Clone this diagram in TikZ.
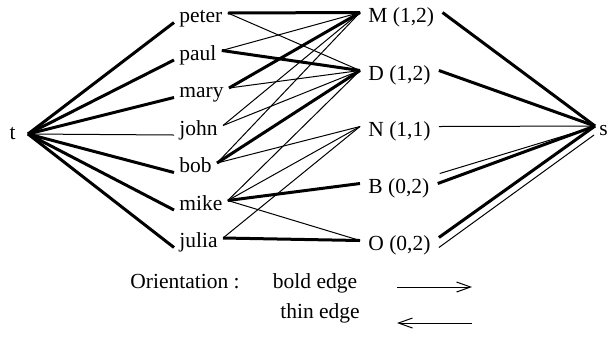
\documentclass[tikz,border=0pt]{standalone}
\usepackage{fontspec}
\setmainfont{Liberation Serif}
\usepackage{tikz}
\usetikzlibrary{arrows.meta}

\begin{document}
\begin{tikzpicture}[
        x=0.5pt, y=-0.5pt,
        every node/.style={font=\fontsize{10.75}{13}\selectfont},
        vertex/.style={inner xsep=2.5pt, inner ysep=0pt, text height=9.5pt, text depth=0pt},
        job/.style={vertex, inner xsep=4pt},
        boldedge/.style={line width=1.5pt},
        thinedge/.style={line width=0.5pt},
        legarrow/.style={line width=0.5pt, -{Straight Barb[length=7pt,width=5pt]}}
    ]
        \useasboundingbox (0,0) rectangle (608,339);

        % Source and sink
        \node[inner xsep=6pt, anchor=east] (t) at (28,134) {t};
        \node[vertex, anchor=west, inner xsep=2pt] (s) at (595,126) {s};

        % Persons
        \node[vertex, anchor=base west] (peter) at (174,22.5) {peter};
        \node[vertex, anchor=base west] (paul)  at (174,60) {paul};
        \node[vertex, anchor=base west] (mary)  at (174,97.5) {mary};
        \node[vertex, anchor=base west] (john)  at (174,135) {john};
        \node[vertex, anchor=base west] (bob)   at (174,172.5) {bob};
        \node[vertex, anchor=base west] (mike)  at (174,210) {mike};
        \node[vertex, anchor=base west] (julia) at (174,247.5) {julia};

        % Jobs
        \node[job, anchor=base west] (M) at (360,22) {M (1,2)};
        \node[job, anchor=base west] (D) at (360,80) {D (1,2)};
        \node[job, anchor=base west] (N) at (360,136) {N (1,1)};
        \node[job, anchor=base west] (B) at (360,193) {B (0,2)};
        \node[job, anchor=base west] (O) at (360,250) {O (0,2)};

        % t -- persons
        \draw[boldedge] (t.east) -- (peter.base west);
        \draw[boldedge] (t.east) -- (paul.base west);
        \draw[boldedge] (t.east) -- (mary.base west);
        \draw[thinedge] (t.east) -- (john.base west);
        \draw[boldedge] (t.east) -- (bob.base west);
        \draw[boldedge] (t.east) -- (mike.base west);
        \draw[boldedge] (t.east) -- (julia.base west);

        % persons -- jobs
        \draw[boldedge] (peter.east) -- (M.west);
        \draw[thinedge] (peter.east) -- (D.west);
        \draw[thinedge] (paul.east) -- (M.west);
        \draw[boldedge] (paul.east) -- (D.west);
        \draw[boldedge] (mary.east) -- (M.west);
        \draw[thinedge] (mary.east) -- (D.west);
        \draw[thinedge] (john.east) -- (M.west);
        \draw[thinedge] (john.east) -- (D.west);
        \draw[thinedge] (bob.east) -- (M.west);
        \draw[boldedge] (bob.east) -- (D.west);
        \draw[thinedge] (bob.east) -- (N.west);
        \draw[thinedge] (mike.east) -- (D.west);
        \draw[thinedge] (mike.east) -- (N.west);
        \draw[boldedge] (mike.east) -- (B.west);
        \draw[thinedge] (mike.east) -- (O.west);
        \draw[thinedge] (julia.east) -- (N.west);
        \draw[boldedge] (julia.east) -- (O.west);

        % jobs -- s
        \draw[boldedge] (M.east) -- (s.west);
        \draw[boldedge] (D.east) -- (s.west);
        \draw[thinedge] (N.east) -- (s.west);
        \draw[thinedge] ([shift={(2,-10)}]B.east) -- ([shift={(-5,2)}]s.west);
        \draw[boldedge] (B.east) -- (s.west);
        \draw[boldedge] ([shift={(0,-3)}]O.east) -- (s.west);
        \draw[thinedge] ([shift={(0,7)}]O.east) -- ([shift={(-1,9)}]s.west);

        % Legend
        \node[anchor=base] (orient)  at (185,288) {Orientation :};
        \node[anchor=base] (boldlbl) at (315,288) {bold edge};
        \node[anchor=base] (thinlbl) at (320,318) {thin edge};
        \coordinate (boldtail) at (397,287);
        \coordinate (boldhead) at (472,287);
        \coordinate (thintail) at (472,323);
        \coordinate (thinhead) at (397,323);
        \draw[legarrow] (boldtail) -- (boldhead);
        \draw[legarrow] (thintail) -- (thinhead);

    \end{tikzpicture}
\end{document}
